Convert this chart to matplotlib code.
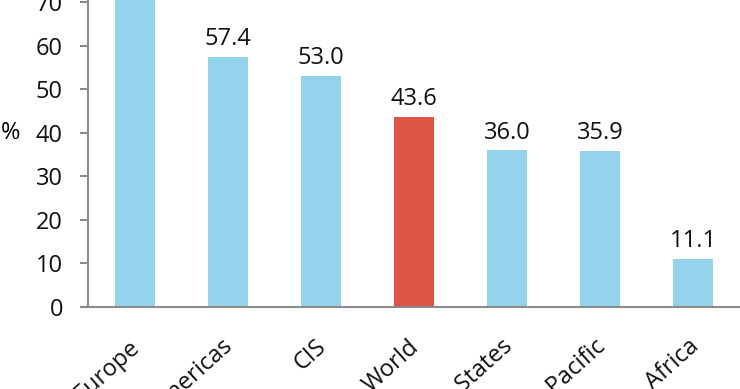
import matplotlib
matplotlib.use("Agg")
import matplotlib.pyplot as plt
import matplotlib.transforms as mtransforms

regions = ["Europe", "Americas", "CIS", "World", "Arab States", "Asia & Pacific", "Africa"]
values = [74.5, 57.4, 53.0, 43.6, 36.0, 35.9, 11.1]
highlight = "World"

blue = "#93D3EC"
red = "#DD5544"
grey = "#8C8C8C"
ymax = 70.45

plt.rcParams["font.family"] = ["Open Sans", "DejaVu Sans"]

fig = plt.figure(figsize=(7.4, 3.89), dpi=100)
ax = fig.add_axes([0.1189, 0.2108, 0.8811, 0.7892])

colors = [red if r == highlight else blue for r in regions]
x = range(len(regions))
ax.bar(x, values, width=0.43, color=colors, zorder=2)

# value labels (the one above the top of the axis is cropped away in the original)
for xi, v in zip(x, values):
    if v + 6 > ymax:
        continue
    ax.annotate(f"{v:.1f}", (xi, v), xytext=(0, 4), textcoords="offset points",
                ha="center", va="bottom", fontsize=17, color="#111111")

ax.set_xlim(-0.5, len(regions) - 0.5)
ax.set_ylim(0, ymax)
ax.set_yticks(range(0, 71, 10))
ax.set_xticks(list(x))
ax.set_xticklabels(regions, rotation=42, ha="right", va="top", rotation_mode="anchor")

for s in ["top", "right"]:
    ax.spines[s].set_visible(False)
for s in ["left", "bottom"]:
    ax.spines[s].set_color(grey)
    ax.spines[s].set_linewidth(1.5)

ax.tick_params(axis="y", length=6, width=1.5, color=grey, pad=12, labelsize=17, labelcolor="#111111")
ax.tick_params(axis="x", length=0, pad=20, labelsize=17, labelcolor="#111111")

# nudge x labels left a bit (after tick_params, which resets transforms)
shift = mtransforms.ScaledTranslation(-6 / 100, 0, fig.dpi_scale_trans)
for lbl in ax.get_xticklabels():
    lbl.set_transform(lbl.get_transform() + shift)

ax.set_ylabel("%", rotation=0, fontsize=17, va="center", ha="center")
ax.yaxis.set_label_coords(-0.118, 40 / ymax)

fig.savefig("out.png", dpi=100)
